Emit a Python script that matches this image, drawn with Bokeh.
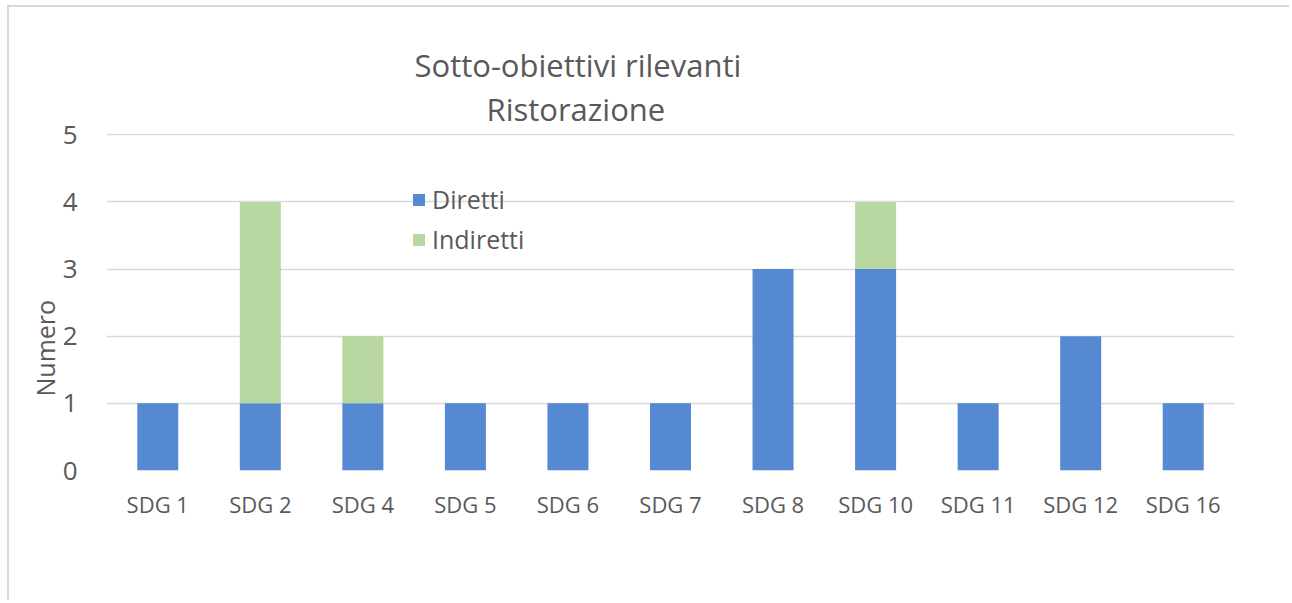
from bokeh.plotting import figure
from bokeh.models import ColumnDataSource, Legend, LegendItem, FixedTicker, Title
from bokeh.embed import file_html
from bokeh.resources import INLINE

categories = ["SDG 1", "SDG 2", "SDG 4", "SDG 5", "SDG 6", "SDG 7", "SDG 8", "SDG 10", "SDG 11", "SDG 12", "SDG 16"]
diretti = [1, 1, 1, 1, 1, 1, 3, 3, 1, 2, 1]
indiretti = [0, 3, 1, 0, 0, 0, 0, 1, 0, 0, 0]
y_ticks = [0, 1, 2, 3, 4, 5]
title_lines = ["Sotto-obiettivi rilevanti", "Ristorazione"]
y_label = "Numero"

BLUE = "#5589D2"
GREEN = "#B8D7A1"
TXT = "#595959"
FONT = "Open Sans"

src = ColumnDataSource(dict(cat=categories, Diretti=diretti, Indiretti=indiretti))

p = figure(x_range=categories, y_range=(0, 5.02), width=1282, height=595, title=None,
           output_backend="svg", toolbar_location=None,
           min_border_left=97, min_border_right=57, min_border_top=126, min_border_bottom=132,
           styles={"margin-left": "7px", "margin-top": "5px",
                   "border-left": "2px solid #D9D9D9", "border-top": "2px solid #D9D9D9"})
p.x_range.range_padding = 0
p.outline_line_color = None

# title lines, added closest-to-plot first
for txt, off, so in ((title_lines[1], 380, 7), (title_lines[0], 308, -7)):
    p.add_layout(Title(text=txt, align="left", offset=off, standoff=so,
                       text_font=FONT, text_font_size="31px", text_font_style="normal",
                       text_color=TXT), "above")

r = p.vbar_stack(["Diretti", "Indiretti"], x="cat", width=0.4, source=src,
                 color=[BLUE, GREEN], line_color=None)

p.xgrid.grid_line_color = None
p.ygrid.grid_line_color = "#D9D9D9"
p.ygrid.grid_line_width = 1.5
p.yaxis.ticker = FixedTicker(ticks=y_ticks)

for ax in (p.xaxis, p.yaxis):
    ax.axis_line_color = None
    ax.major_tick_line_color = None
    ax.minor_tick_line_color = None
    ax.major_label_text_font = FONT
    ax.major_label_text_color = TXT
p.xaxis.major_label_text_font_size = "22px"
p.xaxis.major_label_standoff = 12
p.yaxis.major_label_text_font_size = "26px"
p.yaxis.major_label_standoff = 23

# y-axis name as a side title, shifted up from the bottom of the plot area
p.add_layout(Title(text=y_label, align="left", offset=74, standoff=-5,
                   text_font=FONT, text_font_size="25px", text_font_style="normal",
                   text_color=TXT), "left")

legend = Legend(items=[LegendItem(label="Diretti", renderers=[r[0]]),
                       LegendItem(label="Indiretti", renderers=[r[1]])],
                location=(305, 214), padding=0, margin=0, spacing=6,
                glyph_width=15, glyph_height=15, label_height=31, label_standoff=6,
                label_text_font=FONT, label_text_font_size="25px", label_text_color=TXT,
                border_line_color=None, background_fill_alpha=0)
p.add_layout(legend, "center")

open("out.html", "w").write(file_html(p, INLINE))
